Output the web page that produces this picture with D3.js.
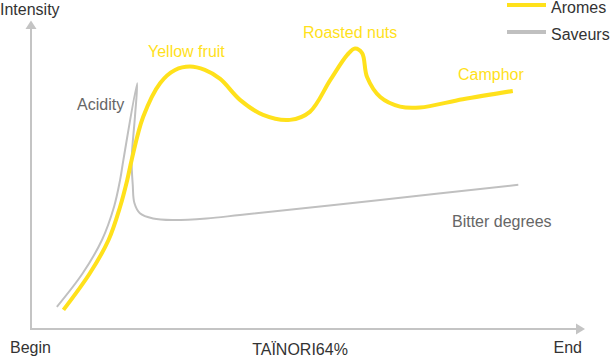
<!DOCTYPE html>
<html><head><meta charset="utf-8">
<script src="https://cdn.jsdelivr.net/npm/d3@7"></script>
<style>body{margin:0;background:#fff}svg{display:block}text{font-family:"Liberation Sans",Arial,sans-serif;font-size:16px}</style>
</head><body><svg id="c" width="612" height="358"></svg>
<script>
// Aromes (yellow) — progression (x) vs intensity (y)
const aromesX = [5.9,10.7,14.1,16.2,17.5,18.3,20.4,23.5,26.2,28.9,31.6,34.4,38.0,42.2,47.1,50.7,54.4,57.5,58.9,60.2,61.1,63.5,67.1,70.7,78.5,87.6];
const aromesY = [6.2,18.1,28.9,39.7,48.4,54.9,68.9,79.9,84.1,85.2,84.1,81.2,74.4,69.5,67.9,70.5,80.8,89.0,91.1,89.6,81.8,75.3,72.2,71.9,74.6,77.3];
// Saveurs (gray)
const saveursX = [4.7,9.4,12.9,15.1,16.2,16.8,19.3,18.9,18.3,18.5,18.8,19.8,22.2,25.8,31.9,38.0,63.5,88.6];
const saveursY = [7.2,18.1,28.9,39.7,48.4,54.9,79.8,68.9,54.9,46.8,40.9,37.6,35.9,35.4,35.9,37.0,41.9,46.8];
const seriesNames = ["Aromes","Saveurs"];
const aromaLabels = ["Yellow fruit","Roasted nuts","Camphor"];
const tasteLabels = ["Acidity","Bitter degrees"];
const axisLabels = {y:"Intensity", start:"Begin", end:"End", title:"TAÏNORI64%"};

const svg = d3.select("#c");
const x = d3.scaleLinear().domain([0,100]).range([31,581]);
const y = d3.scaleLinear().domain([0,100]).range([329,21]);
const axisCol = "#c4c4c4", yellow = "#ffe11b", gray = "#c0c0c0";

// axes
svg.append("line").attr("x1",x(0)).attr("x2",576).attr("y1",y(0)).attr("y2",y(0)).attr("stroke",axisCol).attr("stroke-width",2);
svg.append("path").attr("d",`M576,${y(0)-5.5}L585,${y(0)}L576,${y(0)+5.5}Z`).attr("fill",axisCol);
svg.append("line").attr("x1",x(0)).attr("x2",x(0)).attr("y1",y(0)+1).attr("y2",29).attr("stroke",axisCol).attr("stroke-width",2);
svg.append("path").attr("d",`M${x(0)-5.5},29L${x(0)},20.5L${x(0)+5.5},29Z`).attr("fill",axisCol);

const line = d3.line().x(d=>x(d[0])).y(d=>y(d[1])).curve(d3.curveCatmullRom.alpha(0.5));
svg.append("path").attr("d",line(saveursX.map((v,i)=>[v,saveursY[i]]))).attr("fill","none").attr("stroke",gray).attr("stroke-width",2);
svg.append("path").attr("d",line(aromesX.map((v,i)=>[v,aromesY[i]]))).attr("fill","none").attr("stroke",yellow).attr("stroke-width",4).attr("stroke-linejoin","round");

// axis labels
const dark = "#333";
svg.append("text").attr("x",0).attr("y",15).attr("fill",dark).text(axisLabels.y);
svg.append("text").attr("x",10).attr("y",353).attr("fill",dark).text(axisLabels.start);
svg.append("text").attr("x",582).attr("y",353).attr("text-anchor","end").attr("fill",dark).text(axisLabels.end);
svg.append("text").attr("x",300).attr("y",355).attr("text-anchor","middle").attr("fill",dark).text(axisLabels.title);

// annotations
const aPos = [[148,57],[303,38],[458,80]];
aromaLabels.forEach((t,i)=>svg.append("text").attr("x",aPos[i][0]).attr("y",aPos[i][1]).attr("fill",yellow).text(t));
const tPos = [[77,110],[452,227]];
tasteLabels.forEach((t,i)=>svg.append("text").attr("x",tPos[i][0]).attr("y",tPos[i][1]).attr("fill","#666").text(t));

// legend
const legCols = [yellow, gray];
const legY = [5,32];
seriesNames.forEach((n,i)=>{
  svg.append("line").attr("x1",507).attr("x2",546).attr("y1",legY[i]).attr("y2",legY[i]).attr("stroke",legCols[i]).attr("stroke-width",4);
  svg.append("text").attr("x",551).attr("y",legY[i]+8).attr("fill",dark).text(n);
});
</script></body></html>
